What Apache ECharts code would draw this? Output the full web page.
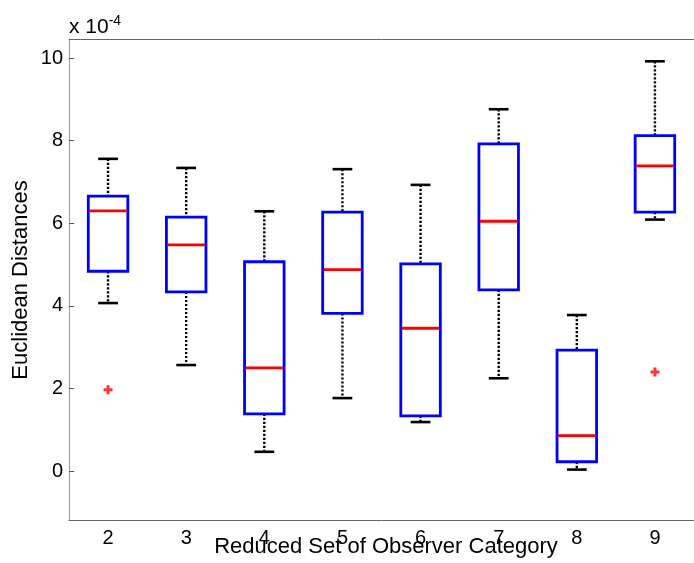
<!DOCTYPE html>
<html>
<head>
<meta charset="utf-8">
<script src="https://cdn.jsdelivr.net/npm/echarts@6/dist/echarts.min.js"></script>
<style>
html,body{margin:0;padding:0;background:#fff;}
#chart{width:694px;height:563px;}
</style>
</head>
<body>
<div id="chart"></div>
<script>
// Values in units of 1e-4
const categories = ['2','3','4','5','6','7','8','9'];
const lowerWhisker = [4.07, 2.57, 0.47, 1.77, 1.19, 2.25, 0.04, 6.09];
const q1Values     = [4.84, 4.34, 1.39, 3.82, 1.34, 4.39, 0.23, 6.27];
const medianValues = [6.30, 5.48, 2.50, 4.88, 3.46, 6.05, 0.86, 7.39];
const q3Values     = [6.66, 6.15, 5.07, 6.27, 5.02, 7.92, 2.93, 8.12];
const upperWhisker = [7.56, 7.34, 6.29, 7.31, 6.93, 8.76, 3.78, 9.92];
const outlierCats  = ['2', '9'];
const outlierVals  = [1.97, 2.40];
const yTicks = [0, 2, 4, 6, 8, 10];

const boxData = categories.map((c, i) => [i, lowerWhisker[i], q1Values[i], medianValues[i], q3Values[i], upperWhisker[i]]);
const outlierData = outlierCats.map((c, i) => [c, outlierVals[i]]);

const FONT = 'Liberation Sans, Arial, Helvetica, sans-serif';

const chart = echarts.init(document.getElementById('chart'), null, {renderer: 'canvas'});

function renderBox(params, api) {
  const idx = api.value(0);
  const lo = api.coord([idx, api.value(1)]);
  const q1 = api.coord([idx, api.value(2)]);
  const md = api.coord([idx, api.value(3)]);
  const q3 = api.coord([idx, api.value(4)]);
  const hi = api.coord([idx, api.value(5)]);
  const bandW = api.size([1, 0])[0];
  const bw = bandW * 0.506;
  const cw = bandW * 0.253;
  const x = lo[0];
  const black = '#000';
  return {
    type: 'group',
    children: [
      {type: 'line', shape: {x1: x, y1: hi[1], x2: x, y2: q3[1]}, style: {stroke: black, lineWidth: 2.4, lineDash: [2.2, 1.8]}},
      {type: 'line', shape: {x1: x, y1: q1[1], x2: x, y2: lo[1]}, style: {stroke: black, lineWidth: 2.4, lineDash: [2.2, 1.8]}},
      {type: 'line', shape: {x1: x - cw / 2, y1: hi[1], x2: x + cw / 2, y2: hi[1]}, style: {stroke: black, lineWidth: 2.6}},
      {type: 'line', shape: {x1: x - cw / 2, y1: lo[1], x2: x + cw / 2, y2: lo[1]}, style: {stroke: black, lineWidth: 2.6}},
      {type: 'rect', shape: {x: x - bw / 2, y: q3[1], width: bw, height: q1[1] - q3[1]}, style: {fill: 'none', stroke: '#0000ff', lineWidth: 2.8}},
      {type: 'line', shape: {x1: x - bw / 2 + 1, y1: md[1], x2: x + bw / 2 - 1, y2: md[1]}, style: {stroke: '#ff0000', lineWidth: 2.8}}
    ]
  };
}

const option = {
  backgroundColor: '#fff',
  animation: false,
  grid: {left: 69, top: 39, right: -7, bottom: 43, containLabel: false},
  xAxis: [
    {
      type: 'category', data: categories, boundaryGap: true, position: 'bottom',
      axisLine: {onZero: false, lineStyle: {color: '#666', width: 1}},
      axisTick: {alignWithLabel: true, inside: true, length: 6, lineStyle: {color: '#444'}},
      axisLabel: {color: '#000', fontSize: 20, fontFamily: FONT, margin: 8},
      splitLine: {show: false}
    },
    {
      type: 'category', data: categories, boundaryGap: true, position: 'top',
      axisLine: {show: true, onZero: false, lineStyle: {color: '#666', width: 1}},
      axisTick: {alignWithLabel: true, inside: true, length: 6, lineStyle: {color: '#444'}},
      axisLabel: {show: false},
      splitLine: {show: false}
    }
  ],
  yAxis: {
    type: 'value', min: -1.18, max: 10.46,
    axisLine: {show: true, onZero: false, lineStyle: {color: '#999', width: 1}},
    axisTick: {show: true, inside: true, length: 5, customValues: yTicks, lineStyle: {color: '#555'}},
    axisLabel: {show: true, customValues: yTicks, color: '#000', fontSize: 20, fontFamily: FONT, margin: 6},
    splitLine: {show: false}
  },
  series: [
    {
      type: 'custom', xAxisIndex: 0, renderItem: renderBox, data: boxData,
      encode: {x: 0, y: [1, 2, 3, 4, 5]}, clip: false
    },
    {
      type: 'scatter', xAxisIndex: 0, data: outlierData,
      symbol: 'path://M3,0h3v3h3v3h-3v3h-3v-3h-3v-3h3z', symbolSize: 9,
      itemStyle: {color: '#ff0000'}
    }
  ],
  graphic: [
    {
      type: 'text', left: 69, top: 14,
      style: {
        text: 'x 10{sup|-4}', fill: '#000', fontSize: 21, fontFamily: FONT,
        rich: {sup: {fontSize: 14, fontFamily: FONT, fill: '#000', verticalAlign: 'top', padding: [0, 0, 12, 0]}}
      }
    },
    {
      type: 'text', x: 386, y: 547,
      style: {text: 'Reduced Set of Observer Category', fill: '#000', fontSize: 22, fontFamily: FONT, align: 'center', verticalAlign: 'middle'}
    },
    {
      type: 'text', x: 21, y: 280, rotation: Math.PI / 2,
      style: {text: 'Euclidean Distances', fill: '#000', fontSize: 22, fontFamily: FONT, align: 'center', verticalAlign: 'middle'}
    }
  ]
};
chart.setOption(option);
</script>
</body>
</html>
